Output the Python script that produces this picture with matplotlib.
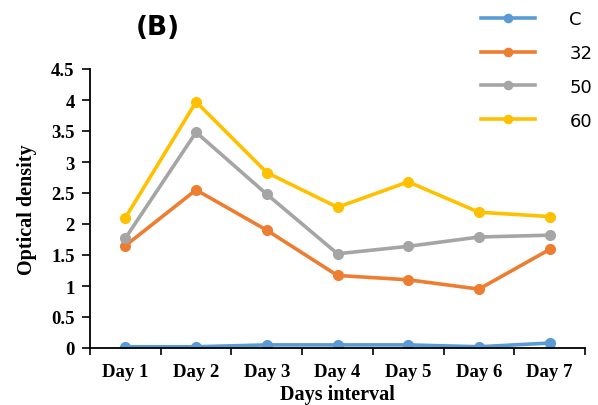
import numpy as np
import matplotlib.pyplot as plt

# data
days = ['Day 1', 'Day 2', 'Day 3', 'Day 4', 'Day 5', 'Day 6', 'Day 7']
c_vals = [0.02, 0.02, 0.05, 0.05, 0.05, 0.02, 0.08]
t32 = [1.65, 2.55, 1.90, 1.17, 1.10, 0.95, 1.59]
t50 = [1.77, 3.48, 2.48, 1.52, 1.64, 1.79, 1.82]
t60 = [2.10, 3.97, 2.83, 2.27, 2.68, 2.19, 2.12]

series = [('C', c_vals, '#5B9BD5'),
          ('32', t32, '#ED7D31'),
          ('50', t50, '#A5A5A5'),
          ('60', t60, '#FFC000')]

fig = plt.figure(figsize=(5.98, 4.06), dpi=100)
ax = fig.add_axes([90/598, 57/406, 495/598, 279/406])

x = np.arange(1, len(days) + 1)
for name, vals, col in series:
    ax.plot(x, vals, color=col, lw=2.6, marker='o', ms=7, label=name)

ax.set_xlim(0.5, 7.5)
ax.set_ylim(0, 4.5)
ax.set_yticks(np.arange(0, 4.51, 0.5))
ax.set_yticklabels(['0', '0.5', '1', '1.5', '2', '2.5', '3', '3.5', '4', '4.5'])
ax.set_xticks(np.arange(0.5, 7.6, 1))
ax.set_xticklabels([])
ax.set_xticks(x, minor=True)
ax.set_xticklabels(days, minor=True)
ax.tick_params(axis='x', which='minor', length=0, pad=11)
ax.tick_params(axis='x', which='major', length=5, width=1.2, direction='out')
ax.tick_params(axis='y', length=6, width=1.2, direction='out', pad=5)
for lab in ax.get_xticklabels(minor=True) + ax.get_yticklabels():
    lab.set_family('Liberation Serif')
    lab.set_fontweight('bold')
    lab.set_fontsize(13.5)

ax.spines['top'].set_visible(False)
ax.spines['right'].set_visible(False)
ax.spines['left'].set_linewidth(1.3)
ax.spines['bottom'].set_linewidth(1.3)

ax.set_xlabel('Days interval', family='Liberation Serif', fontweight='bold', fontsize=14.5, labelpad=3)
ax.set_ylabel('Optical density', family='Liberation Serif', fontweight='bold', fontsize=14.5, labelpad=10)

fig.text(158/598, 1 - 28/406, '(B)', ha='center', va='center', fontsize=19, fontweight='bold',
         family='DejaVu Sans')

fig.legend(loc='upper left', bbox_to_anchor=(481/598, 1 - 11/406), frameon=False,
           borderaxespad=0, borderpad=0, fontsize=13, handlelength=3.0,
           handletextpad=1.9, labelspacing=0.88, markerscale=0.85)

fig.savefig('out.png', dpi=100)
